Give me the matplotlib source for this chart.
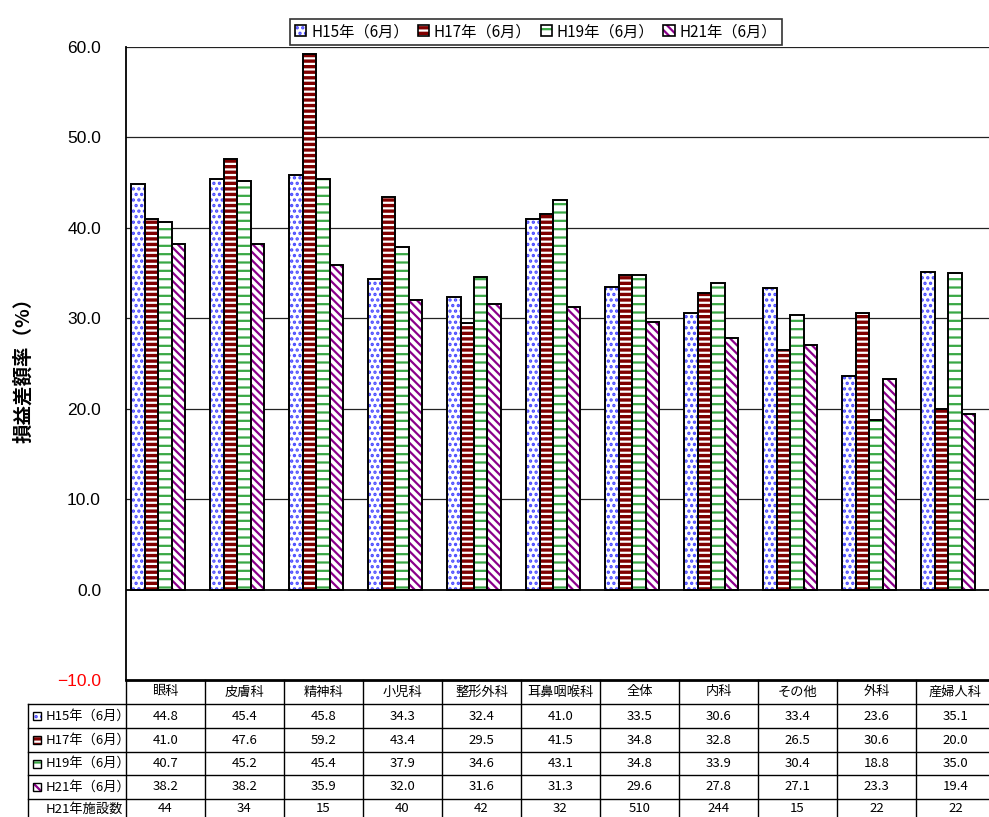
import numpy as np
import matplotlib
matplotlib.use("Agg")
import matplotlib.pyplot as plt
from matplotlib.patches import Rectangle, Patch
from matplotlib.lines import Line2D
from matplotlib.legend_handler import HandlerTuple

plt.rcParams['font.family'] = ['Noto Sans CJK JP', 'DejaVu Sans']
plt.rcParams['hatch.linewidth'] = 1.6

# data
categories = ["眼科", "皮膚科", "精神科", "小児科", "整形外科", "耳鼻咽喉科",
              "全体", "内科", "その他", "外科", "産婦人科"]
series_names = ["H15年（6月）", "H17年（6月）", "H19年（6月）", "H21年（6月）"]
h15 = [44.8, 45.4, 45.8, 34.3, 32.4, 41.0, 33.5, 30.6, 33.4, 23.6, 35.1]
h17 = [41.0, 47.6, 59.2, 43.4, 29.5, 41.5, 34.8, 32.8, 26.5, 30.6, 20.0]
h19 = [40.7, 45.2, 45.4, 37.9, 34.6, 43.1, 34.8, 33.9, 30.4, 18.8, 35.0]
h21 = [38.2, 38.2, 35.9, 32.0, 31.6, 31.3, 29.6, 27.8, 27.1, 23.3, 19.4]
facilities = [44, 34, 15, 40, 42, 32, 510, 244, 15, 22, 22]
series = [h15, h17, h19, h21]

# styles: (face, hatch, hatch colour)
styles = [
    ("white", "...", "#4a4aff"),
    ("#800000", "---", "white"),
    ("white", "--", "#3aa845"),
    ("white", "\\\\\\\\", "#8b008b"),
]

W, H = 989, 817
fig = plt.figure(figsize=(W / 100, H / 100), dpi=100)

ax_left, ax_right, ax_top, ax_bot = 126, 995, 47, 680
ax = fig.add_axes([ax_left / W, 1 - ax_bot / H, (ax_right - ax_left) / W, (ax_bot - ax_top) / H])
n = len(categories)
ax.set_xlim(-0.5, n - 0.5)
ax.set_ylim(-10, 60)

x = np.arange(n)
off0, bw = 5 / 79, 13.5 / 79
for k, vals in enumerate(series):
    face, hatch, hc = styles[k]
    pos = x - 0.5 + off0 + bw * (k + 0.5)
    ax.bar(pos, vals, width=bw, color=face, hatch=hatch, edgecolor=hc, linewidth=0, zorder=3)
    ax.bar(pos, vals, width=bw, fill=False, edgecolor="black", linewidth=1.4, zorder=4)

ax.set_yticks(np.arange(-10, 61, 10))
ax.set_yticklabels([f"{v:.1f}".replace("-", "−") for v in np.arange(-10, 61, 10)],
                   family=["Liberation Sans"], fontsize=12.5)
ax.get_yticklabels()[0].set_color("red")
ax.tick_params(axis="y", length=0, pad=18)
ax.set_xticks([])
for v in range(10, 61, 10):
    ax.axhline(v, color="#222222", linewidth=0.9, zorder=1)
ax.axhline(0, color="black", linewidth=1.3, zorder=5)
for s in ["top", "right"]:
    ax.spines[s].set_visible(False)
ax.spines["left"].set_linewidth(1.3)
ax.spines["bottom"].set_linewidth(2)

fig.text(23 / W, 1 - 365 / H, "損益差額率（%）", rotation=90, ha="center", va="center",
         fontsize=14, fontweight="bold")

handles = [(Patch(facecolor=st[0], hatch=st[1], edgecolor=st[2], linewidth=0),
            Patch(fill=False, edgecolor="black", linewidth=1.2)) for st in styles]
leg = fig.legend(handles, series_names, loc="upper center", bbox_to_anchor=(536 / W, 1 - 11 / H),
                 ncol=4, frameon=True, fancybox=False, edgecolor="black", fontsize=11,
                 handlelength=0.75, handleheight=0.75, handletextpad=0.3, columnspacing=0.6,
                 borderpad=0.3, handler_map={tuple: HandlerTuple(ndivide=1, pad=0)})
leg.get_frame().set_linewidth(1.2)

# table overlay in pixel coordinates
ov = fig.add_axes([0, 0, 1, 1])
ov.set_xlim(0, W)
ov.set_ylim(H, 0)
ov.axis("off")
ov.patch.set_alpha(0)

colw = (ax_right - ax_left) / n
lab_left = 28
row_lines = [704, 728, 752, 775, 799]
for y in row_lines:
    ov.add_line(Line2D([lab_left, ax_right], [y, y], color="black", linewidth=1))
for i in range(n + 1):
    xx = ax_left + i * colw
    ov.add_line(Line2D([xx, xx], [ax_bot, H], color="black", linewidth=1))
ov.add_line(Line2D([lab_left, lab_left], [704, H], color="black", linewidth=1))

for i, c in enumerate(categories):
    ov.text(ax_left + (i + 0.5) * colw, 692, c, ha="center", va="center", fontsize=9.5)

row_centers = [716, 740, 763.5, 787, 809]
for r, (name, vals) in enumerate(zip(series_names, series)):
    yc = row_centers[r]
    face, hatch, hc = styles[r]
    ov.add_patch(Rectangle((33, yc - 4), 8, 8, facecolor=face, hatch=hatch, edgecolor=hc, linewidth=0))
    ov.add_patch(Rectangle((33, yc - 4), 8, 8, fill=False, edgecolor="black", linewidth=1))
    ov.text(46, yc, name, ha="left", va="center", fontsize=9.5)
    for i, v in enumerate(vals):
        ov.text(ax_left + (i + 0.5) * colw, yc, f"{v:.1f}", ha="center", va="center", fontsize=9.5)
ov.text(46, row_centers[4], "H21年施設数", ha="left", va="center", fontsize=9.5)
for i, v in enumerate(facilities):
    ov.text(ax_left + (i + 0.5) * colw, row_centers[4], str(v), ha="center", va="center", fontsize=9.5)

fig.savefig("out.png", dpi=100)
